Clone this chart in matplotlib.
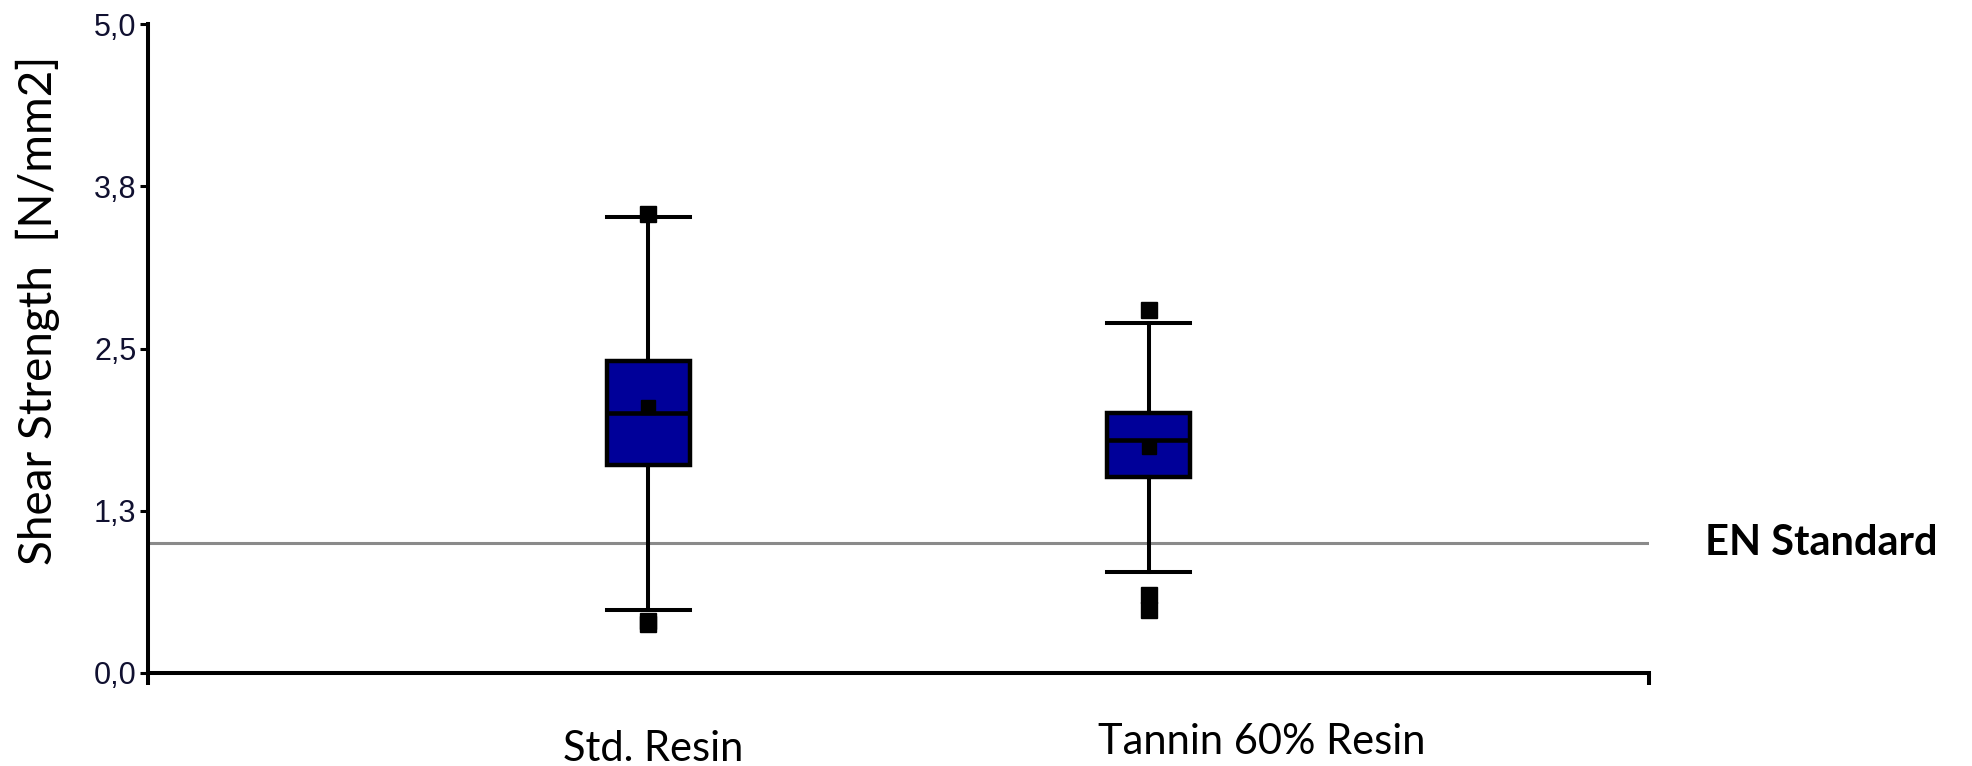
import matplotlib
matplotlib.use("Agg")
import matplotlib.pyplot as plt
import matplotlib.transforms as mtransforms

# shear strength summary per resin (N/mm2)
groups = ["Std. Resin", "Tannin 60% Resin"]
q1 = [1.60, 1.51]
median = [2.005, 1.795]
q3 = [2.40, 2.005]
whisker_low = [0.485, 0.776]
whisker_high = [3.51, 2.70]
means = [2.05, 1.74]
outliers = [[3.54, 0.40, 0.38], [2.80, 0.60, 0.485]]
en_standard = 1.0

y_ticks = [0.0, 1.25, 2.5, 3.75, 5.0]
y_ticklabels = ["0,0", "1,3", "2,5", "3,8", "5,0"]

positions = [1, 2]
label_x = [1.01, 2.227]
label_baseline = [761, 754]   # pixel rows from the top

W, H = 1972, 766
fig = plt.figure(figsize=(W / 100, H / 100), dpi=100)
ax = fig.add_axes([148 / W, 1 - 673 / H, (1649 - 148) / W, (673 - 24) / H])

stats = []
for i in range(len(groups)):
    stats.append(dict(med=median[i], q1=q1[i], q3=q3[i],
                      whislo=whisker_low[i], whishi=whisker_high[i],
                      mean=means[i], fliers=outliers[i]))

box_w = 0.166
ax.bxp(stats, positions=positions, widths=box_w, capwidths=box_w,
       showmeans=True, patch_artist=True, manage_ticks=False,
       boxprops=dict(facecolor="#000099", edgecolor="black", linewidth=3.2),
       whiskerprops=dict(color="black", linewidth=2.9),
       capprops=dict(color="black", linewidth=2.9, zorder=4),
       medianprops=dict(color="black", linewidth=3.3, zorder=4),
       meanprops=dict(marker="s", markerfacecolor="black",
                      markeredgecolor="black", markersize=9.4, zorder=3),
       flierprops=dict(marker="s", markerfacecolor="black",
                       markeredgecolor="black", markersize=11.8))

# EN limit line
ax.axhline(en_standard, color="#8a8a8a", linewidth=2.2, zorder=1)
trans = mtransforms.blended_transform_factory(ax.transAxes, ax.transData)
ax.text(1.037, en_standard, "EN Standard", transform=trans, ha="left",
        va="center", fontsize=30, fontweight="bold", family="Lato")

ax.set_xlim(0, 3)
ax.set_ylim(0, 5)
ax.set_yticks(y_ticks)
ax.set_yticklabels(y_ticklabels, family="Liberation Sans", fontsize=22,
                   color="#101030")
ax.tick_params(axis="y", direction="out", length=5.8, width=2.2, pad=2.5)

ax.set_xticks([0, 3])
ax.set_xticklabels([])
ax.set_xticks(positions, minor=True)
ax.tick_params(axis="x", which="major", direction="out", length=8.6, width=2.9)
ax.tick_params(axis="x", which="minor", direction="out", length=1.5, width=1.5)

for side in ["top", "right"]:
    ax.spines[side].set_visible(False)
for side in ["left", "bottom"]:
    ax.spines[side].set_linewidth(2.9)

xtrans = mtransforms.blended_transform_factory(ax.transData, fig.transFigure)
for g, x, b in zip(groups, label_x, label_baseline):
    ax.text(x, 1 - b / H, g, transform=xtrans, ha="center", va="baseline",
            fontsize=30, family="Lato")

fig.text(38 / W, 1 - 310 / H, "Shear Strength  [N/mm2]", rotation=90,
         ha="center", va="center", fontsize=33, family="Lato")

fig.savefig("out.png", dpi=100)
